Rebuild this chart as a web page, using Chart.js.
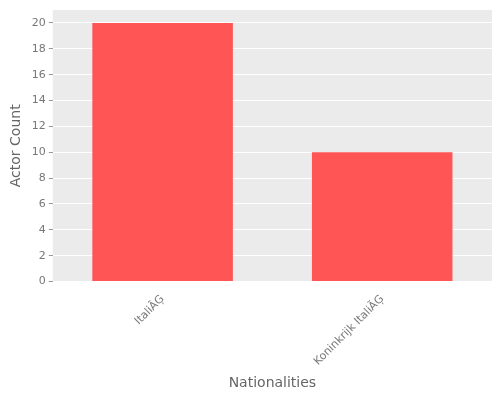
<!DOCTYPE html>
<html>
<head>
<script src="https://cdn.jsdelivr.net/npm/chart.js@4"></script>
<style>
  body { margin: 0; background: white; }
  #wrap { width: 500px; height: 400px; }
</style>
</head>
<body>
<div id="wrap"><canvas id="c"></canvas></div>
<script>
const categories = ['Italië', 'Koninkrijk Italië'];
const actorCounts = [20, 10];

// grey panel behind the plot area, ggplot style
const panelBg = {
    id: 'panelBg',
    beforeDraw: (chart) => {
        const { ctx, chartArea: a } = chart;
        ctx.save();
        ctx.fillStyle = '#ebebeb';
        ctx.fillRect(a.left, a.top, a.right - a.left, a.bottom - a.top);
        ctx.restore();
    }
};

new Chart(document.getElementById('c').getContext('2d'), {
    type: 'bar',
    data: {
        labels: categories,
        datasets: [{
            data: actorCounts,
            backgroundColor: '#ff5555',
            categoryPercentage: 1,
            barPercentage: 0.64,
        }]
    },
    options: {
        responsive: true,
        maintainAspectRatio: false,
        animation: false,
        layout: { padding: { top: 10, right: 8, left: 4, bottom: 4 } },
        plugins: { legend: { display: false }, tooltip: { enabled: false } },
        scales: {
            x: {
                grid: { display: false },
                border: { display: false },
                ticks: { color: '#777', font: { family: 'DejaVu Sans', size: 11 }, maxRotation: 45, minRotation: 45 },
                title: { display: true, text: 'Nationalities', color: '#666', font: { family: 'DejaVu Sans', size: 14 } },
            },
            y: {
                min: 0,
                max: 21,
                afterBuildTicks: (axis) => {
                    axis.ticks = [0, 2, 4, 6, 8, 10, 12, 14, 16, 18, 20].map(v => ({ value: v }));
                },
                grid: { color: '#ffffff', lineWidth: 1, tickLength: 4, tickColor: '#999' },
                border: { display: false },
                ticks: { color: '#777', font: { family: 'DejaVu Sans', size: 11 } },
                title: { display: true, text: 'Actor Count', color: '#666', font: { family: 'DejaVu Sans', size: 14 } },
            }
        }
    },
    plugins: [panelBg]
});
</script>
</body>
</html>
